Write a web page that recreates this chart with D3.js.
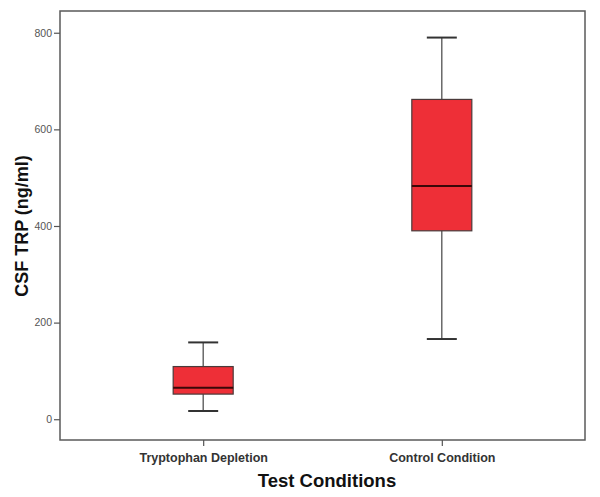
<!DOCTYPE html>
<html><head><meta charset="utf-8">
<script src="https://cdn.jsdelivr.net/npm/d3@7"></script>
<style>body{margin:0;background:#fff}</style>
</head><body>
<svg id="c" width="600" height="497"></svg>
<script>
const categories = ["Tryptophan Depletion", "Control Condition"];
const whiskerLow = [17, 166];
const q1 = [52, 390];
const median = [65, 483];
const q3 = [109, 662];
const whiskerHigh = [159, 790];
const yTicks = [0, 200, 400, 600, 800];

const svg = d3.select("#c");
const L = 60, R = 585, T = 11, B = 440;
const y = d3.scaleLinear().domain([-43, 845]).range([B, T]);
const x = d3.scalePoint().domain(categories).range([L, R]).padding(0.6);
const boxW = 60, capW = 30;

// frame
svg.append("rect").attr("x", L).attr("y", T).attr("width", R - L).attr("height", B - T)
  .attr("fill", "none").attr("stroke", "#5a5a5a").attr("stroke-width", 1.5);

// y axis
const ya = svg.append("g").attr("transform", `translate(${L},0)`)
  .call(d3.axisLeft(y).tickValues(yTicks).tickSize(6).tickPadding(2));
ya.select(".domain").remove();
ya.selectAll("line").attr("stroke", "#555").attr("stroke-width", 1.2);
ya.selectAll("text").attr("font-family", "Liberation Sans, Arial, sans-serif")
  .attr("font-size", 10.5).attr("fill", "#555");

// x axis
const xa = svg.append("g").attr("transform", `translate(0,${B})`)
  .call(d3.axisBottom(x).tickSize(6).tickPadding(5));
xa.select(".domain").remove();
xa.selectAll("line").attr("stroke", "#555").attr("stroke-width", 1.2);
xa.selectAll("text").attr("font-family", "Liberation Sans, Arial, sans-serif")
  .attr("font-weight", "bold").attr("font-size", 12.5).attr("fill", "#333")
  .attr("dy", "0.9em");

// boxes
const data = categories.map((c, i) => ({c, lo: whiskerLow[i], q1: q1[i], med: median[i], q3: q3[i], hi: whiskerHigh[i]}));
const g = svg.append("g").selectAll("g").data(data).join("g")
  .attr("transform", d => `translate(${x(d.c)},0)`);
g.append("line").attr("x1", 0).attr("x2", 0).attr("y1", d => y(d.hi)).attr("y2", d => y(d.q3))
  .attr("stroke", "#444").attr("stroke-width", 1.2);
g.append("line").attr("x1", 0).attr("x2", 0).attr("y1", d => y(d.q1)).attr("y2", d => y(d.lo))
  .attr("stroke", "#444").attr("stroke-width", 1.2);
g.append("line").attr("x1", -capW / 2).attr("x2", capW / 2).attr("y1", d => y(d.hi)).attr("y2", d => y(d.hi))
  .attr("stroke", "#333").attr("stroke-width", 2);
g.append("line").attr("x1", -capW / 2).attr("x2", capW / 2).attr("y1", d => y(d.lo)).attr("y2", d => y(d.lo))
  .attr("stroke", "#333").attr("stroke-width", 2);
g.append("rect").attr("x", -boxW / 2).attr("width", boxW)
  .attr("y", d => y(d.q3)).attr("height", d => y(d.q1) - y(d.q3))
  .attr("fill", "#ee2f37").attr("stroke", "#4a3a3a").attr("stroke-width", 1.2);
g.append("line").attr("x1", -boxW / 2).attr("x2", boxW / 2).attr("y1", d => y(d.med)).attr("y2", d => y(d.med))
  .attr("stroke", "#3a0808").attr("stroke-width", 2);

// titles
svg.append("text").attr("x", 327).attr("y", 487).attr("text-anchor", "middle")
  .attr("font-family", "Liberation Sans, Arial, sans-serif").attr("font-weight", "bold")
  .attr("font-size", 18.5).attr("fill", "#111").text("Test Conditions");
svg.append("text").attr("transform", "translate(28,226) rotate(-90)").attr("text-anchor", "middle")
  .attr("font-family", "Liberation Sans, Arial, sans-serif").attr("font-weight", "bold")
  .attr("font-size", 18).attr("fill", "#111").text("CSF TRP (ng/ml)");
</script>
</body></html>
